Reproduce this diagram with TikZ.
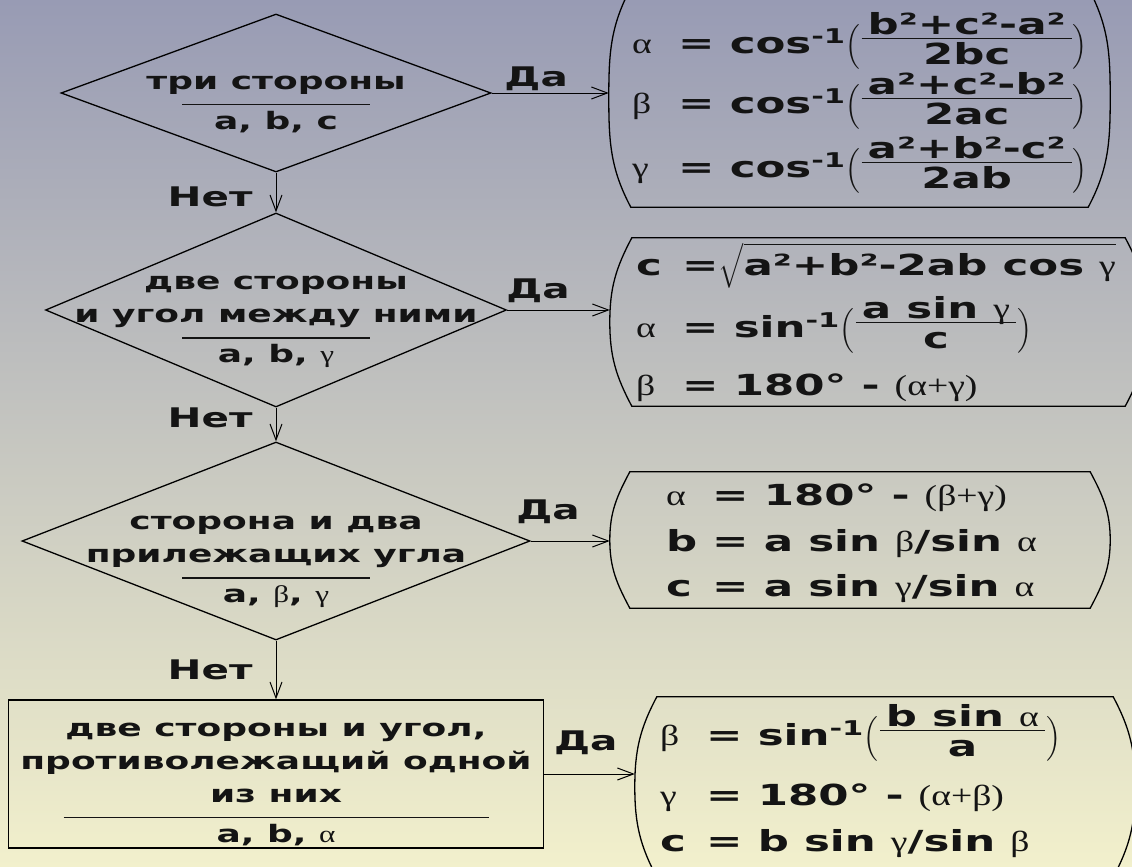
\documentclass[tikz,border=0pt]{standalone}
\usepackage{amsmath}
\usepackage{fontspec}
\newfontfamily\dvb{DejaVu Sans Bold}[FakeStretch=1.5]
\newfontfamily\grk{Liberation Serif}[FakeStretch=1.3]
\usetikzlibrary{arrows.meta,shapes.geometric,positioning,calc}

\definecolor{bgtop}{RGB}{152,155,180}
\definecolor{bgmid}{RGB}{198,198,192}
\definecolor{bgbot}{RGB}{242,240,204}
\definecolor{ink}{RGB}{20,20,20}

\newcommand{\galpha}{{\grk α}}
\newcommand{\gbeta}{{\grk β}}
\newcommand{\ggamma}{{\grk γ}}
\newcommand{\lhs}[1]{\makebox[46pt][l]{#1}}
\newcommand{\parl}{$\left(\vcenter{\hbox{\rule{0pt}{40pt}}}\right.$}
\newcommand{\parr}{$\left.\vcenter{\hbox{\rule{0pt}{40pt}}}\right)$}
\newcommand{\frc}[2]{\parl\raisebox{4pt}{$\vcenter{\hbox{\arrayrulewidth=1.2pt\tabcolsep=6pt\begin{tabular}{c}#1\\[-7.5pt]\hline\rule{0pt}{26pt}#2\end{tabular}}}$}\parr}
\newcommand{\bracket}[2]{%
  \draw[frame] ($(#1.north west)+(#2,0)$) -- ($(#1.north east)+(-#2,0)$)
    to[out=-62,in=90] (#1.east) to[out=-90,in=62] ($(#1.south east)+(-#2,0)$)
    -- ($(#1.south west)+(#2,0)$)
    to[out=118,in=-90] (#1.west) to[out=90,in=-118] cycle;}

\begin{document}
\begin{tikzpicture}[
    x=1pt, y=-1pt,
    dia/.style={draw, shape=diamond, inner sep=0, line width=1.3pt},
    dtext/.style={align=center, inner sep=0, text=ink, font=\dvb\fontsize{24}{33}\selectfont},
    rectbox/.style={draw, line width=1.3pt, inner sep=0},
    fbox/.style={inner sep=0, draw=none},
    fline/.style={anchor=base west, inner sep=0, text=ink, font=\dvb\fontsize{29}{35}\selectfont},
    frame/.style={line width=1.3pt},
    lbl/.style={inner sep=0, text=ink, font=\dvb\fontsize{27}{30}\selectfont},
    arr/.style={-{Straight Barb[length=16pt,width=12pt]}, line width=1pt}
]
\useasboundingbox (0,0) rectangle (1132,867);
\shade[top color=bgtop, middle color=bgmid, bottom color=bgbot] (0,0) rectangle (1132,867);

% decisions
\node[dia, minimum width=430pt, minimum height=158pt] (d1) at (276,93) {};
\node[dia, minimum width=461pt, minimum height=194pt] (d2) at (276,310) {};
\node[dia, minimum width=508pt, minimum height=198pt] (d3) at (276,541) {};
\node[rectbox, minimum width=535pt, minimum height=148pt] (r4) at (276,774) {};

\node[dtext] (t1) at (276,104) {три стороны\\[-17pt]\rule{188pt}{1.2pt}\\[-9pt]a, b, c};
\node[dtext] (t2) at (276,322) {две стороны\\и угол между ними\\[-17pt]\rule{188pt}{1.2pt}\\[-9pt]a, b, \ggamma};
\node[dtext] (t3) at (276,562) {сторона и два\\прилежащих угла\\[-17pt]\rule{188pt}{1.2pt}\\[-9pt]a, \gbeta,\ \ggamma};
\node[dtext] (t4) at (276,784) {две стороны и угол,\\противолежащий одной\\из них\\[-17pt]\rule{425pt}{1.2pt}\\[-9pt]a, b, \galpha};

% formula boxes
\node[fbox, minimum width=501pt, minimum height=219pt] (b1) at (859.5,97.5) {};
\node[fbox, minimum width=537pt, minimum height=168pt] (b2) at (878.5,322) {};
\node[fbox, minimum width=500pt, minimum height=136pt] (b3) at (860,540) {};
\node[fbox, minimum width=500pt, minimum height=180pt] (b4) at (885,787) {};
\bracket{b1}{22}
\bracket{b2}{22}
\bracket{b3}{20}
\bracket{b4}{22}

\node[fline] (f11) at (632,53) {\lhs{\galpha}= cos\textsuperscript{-1}\frc{b²+c²-a²}{2bc}};
\node[fline] (f12) at (632,113) {\lhs{\gbeta}= cos\textsuperscript{-1}\frc{a²+c²-b²}{2ac}};
\node[fline] (f13) at (632,177) {\lhs{\ggamma}= cos\textsuperscript{-1}\frc{a²+b²-c²}{2ab}};

\node[fline] (f21) at (636,275) {\lhs{c}=$\sqrt{\hbox{a²+b²-2ab cos \ggamma}}$};
\node[fline] (f22) at (636,337) {\lhs{\galpha}= sin\textsuperscript{-1}\frc{a sin \ggamma}{c}};
\node[fline] (f23) at (636,395) {\lhs{\gbeta}= 180° - {\grk(}\galpha{\grk +}\ggamma{\grk)}};

\node[fline] (f31) at (666,505) {\lhs{\galpha}= 180° - {\grk(}\gbeta{\grk +}\ggamma{\grk)}};
\node[fline] (f32) at (666,551) {\lhs{b}= a sin \gbeta/sin \galpha};
\node[fline] (f33) at (666,596) {\lhs{c}= a sin \ggamma/sin \galpha};

\node[fline] (f41) at (660,745) {\lhs{\gbeta}= sin\textsuperscript{-1}\frc{b sin \galpha}{a}};
\node[fline] (f42) at (660,805) {\lhs{\ggamma}= 180° - {\grk(}\galpha{\grk +}\gbeta{\grk)}};
\node[fline] (f43) at (660,851) {\lhs{c}= b sin \ggamma/sin \gbeta};

% connectors
\draw[arr] (d1.south) -- node[lbl, left=23pt, pos=0.61] {Нет} (d2.north);
\draw[arr] (d2.south) -- node[lbl, left=23pt, pos=0.29] {Нет} (d3.north);
\draw[arr] (d3.south) -- node[lbl, left=23pt, pos=0.5] {Нет} (r4.north);

\draw[arr] (d1.east) -- node[lbl, above=2pt, pos=0.38] {Да} (d1.east -| b1.west);
\draw[arr] (d2.east) -- node[lbl, above=7pt, pos=0.30] {Да} (d2.east -| b2.west);
\draw[arr] (d3.east) -- node[lbl, above=17pt, pos=0.22] {Да} (d3.east -| b3.west);
\draw[arr] (r4.east) -- node[lbl, above=19pt, pos=0.46] {Да} (r4.east -| b4.west);
\end{tikzpicture}
\end{document}
